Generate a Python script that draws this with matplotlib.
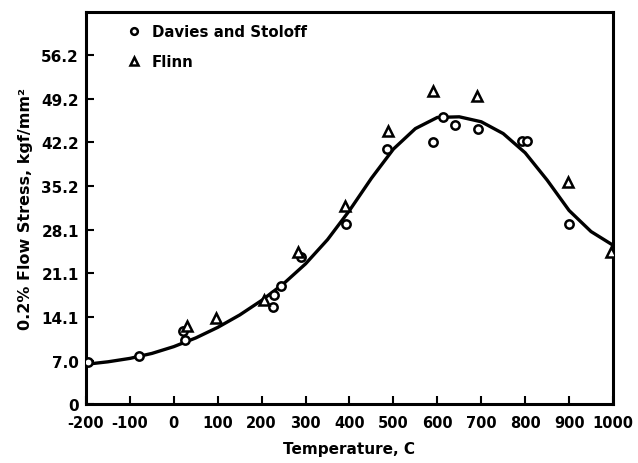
import matplotlib
matplotlib.use("Agg")
import matplotlib.pyplot as plt

plt.rcParams.update({
    "font.family": "DejaVu Sans",
    "font.weight": "bold",
    "axes.labelweight": "bold",
    "axes.unicode_minus": False,
    "font.size": 11,
})

# fitted flow-stress curve (temperature C, kgf/mm^2)
curve_t = [-200, -150, -100, -50, 0, 50, 100, 150, 200, 250, 300, 350,
           400, 450, 500, 550, 600, 650, 700, 750, 800, 850, 900, 950, 1000]
curve_s = [6.4, 6.8, 7.35, 8.15, 9.25, 10.65, 12.35, 14.35, 16.7, 19.4, 22.6,
           26.5, 31.2, 36.4, 41.1, 44.4, 46.2, 46.3, 45.5, 43.6, 40.5, 36.1,
           31.2, 27.8, 25.6]

# Davies and Stoloff
ds_t = [-196, -79, 25, 20, 225, 228, 245, 290, 393, 485, 590, 613, 640,
        693, 793, 804, 900]
ds_s = [6.8, 7.7, 10.3, 11.8, 15.6, 17.6, 19.0, 23.7, 29.0, 41.1, 42.2,
        46.3, 45.0, 44.4, 42.4, 42.4, 29.0]

# Flinn
fl_t = [30, 95, 205, 282, 390, 488, 590, 690, 897, 995]
fl_s = [12.6, 13.9, 16.8, 24.5, 32.0, 44.0, 50.5, 49.7, 35.8, 24.5]

x_ticks = [-200, -100, 0, 100, 200, 300, 400, 500, 600, 700, 800, 900, 1000]
y_ticks = [0, 7.0, 14.1, 21.1, 28.1, 35.2, 42.2, 49.2, 56.2]
y_labels = ["0", "7.0", "14.1", "21.1", "28.1", "35.2", "42.2", "49.2", "56.2"]

fig = plt.figure(figsize=(6.38, 4.64), dpi=100)
ax = fig.add_axes([0.1348, 0.1272, 0.826, 0.8448])

ax.plot(curve_t, curve_s, color="black", lw=2.4, zorder=2,
        solid_joinstyle="round", solid_capstyle="round")
ax.plot(ds_t, ds_s, "o", ms=6, mfc="white", mec="black", mew=1.8,
        ls="none", label="Davies and Stoloff", zorder=3)
ax.plot(fl_t, fl_s, "^", ms=7, mfc="white", mec="black", mew=1.8,
        ls="none", label="Flinn", zorder=3)

ax.set_xlim(-200, 1000)
ax.set_ylim(0, 63.2)
ax.set_xticks(x_ticks)
ax.set_yticks(y_ticks)
ax.set_yticklabels(y_labels)
ax.tick_params(direction="in", length=6, width=1.5, pad=5, labelsize=11)
ax.tick_params(axis="x", labelsize=10.5, pad=8)
for sp in ax.spines.values():
    sp.set_linewidth(2.2)

ax.set_xlabel("Temperature, C", fontsize=11, labelpad=8)
ax.set_ylabel("0.2% Flow Stress, kgf/mm²", fontsize=11.5, labelpad=6)

ax.legend(loc="upper left", frameon=False, fontsize=10.8, handletextpad=0.2,
          borderaxespad=0.4, labelspacing=1.0, markerscale=0.8,
          bbox_to_anchor=(0.04, 1.0))

fig.savefig("out.png", dpi=100)
